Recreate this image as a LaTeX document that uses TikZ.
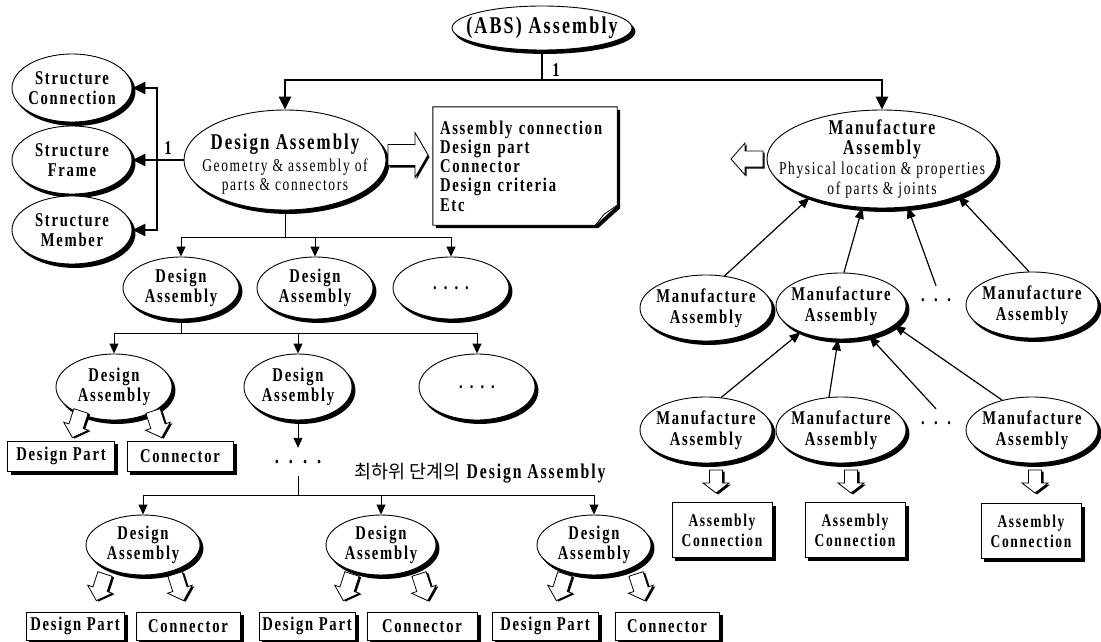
\documentclass[tikz,border=0pt]{standalone}
\usepackage{fontspec}
\setmainfont{Liberation Serif}[FakeStretch=0.75,LetterSpace=9]
\newfontfamily\krfont{Noto Sans CJK KR}
\usetikzlibrary{shapes.geometric,arrows.meta,calc}
\pgfdeclarelayer{background}
\pgfsetlayers{background,main}
\newcommand\dotrow[1]{.\hspace{#1}.\hspace{#1}.\hspace{#1}.}
\newcommand\dotrowthree[1]{.\hspace{#1}.\hspace{#1}.}

\tikzset{
  txt/.style={font=\bfseries\fontsize{19.5}{20.5}\selectfont, align=center, inner sep=0pt},
  oval/.style={ellipse, draw, line width=0.9pt, fill=white, inner sep=0pt},
  say/.style={label={[txt]center:{#1}}},
  rectbox/.style={txt, rectangle, draw, line width=0.9pt, fill=white},
  smalloval/.style={oval, minimum width=116pt, minimum height=62pt},
  mfoval/.style={oval, minimum width=132pt, minimum height=66pt},
  partbox/.style={rectbox, font=\bfseries\fontsize{19.5}{20}\selectfont, minimum height=30pt},
  acbox/.style={rectbox, font=\bfseries\fontsize{18}{20}\selectfont, minimum width=100pt, minimum height=55pt},
  dotnode/.style={txt, minimum height=28pt},
  trunk/.style={line width=2.4pt, -{Triangle[length=13pt,width=12pt]}},
  trunkline/.style={line width=2.4pt},
  twig/.style={line width=0.9pt, -{Triangle[length=10pt,width=9pt]}},
  twigline/.style={line width=0.9pt},
  feed/.style={line width=1.2pt, -{Triangle[length=11pt,width=9pt]}},
  pics/hollow/.style args={#1/#2/#3/#4/#5/#6}{code={
    % length / head length / shaft width / head width / shadow offset
    \fill[black] (#5,#6-#3/2) -- (#5+#1-#2,#6-#3/2) -- (#5+#1-#2,#6-#4/2) -- (#5+#1,#6)
      -- (#5+#1-#2,#6+#4/2) -- (#5+#1-#2,#6+#3/2) -- (#5,#6+#3/2) -- cycle;
    \filldraw[fill=white, line width=0.8pt] (0,-#3/2) -- (#1-#2,-#3/2) -- (#1-#2,-#4/2) -- (#1,0)
      -- (#1-#2,#4/2) -- (#1-#2,#3/2) -- (0,#3/2) -- cycle;
  }},
  pics/dropleft/.style={code={\pic[rotate=-108] {hollow=28/12/15/26/0.3/-2.2};}},
  pics/dropright/.style={code={\pic[rotate=-72] {hollow=28/12/15/26/1.6/-1.6};}},
}

\begin{document}
\begin{tikzpicture}[x=1pt,y=-1pt]
\useasboundingbox (0,0) rectangle (1101,642);

% ---------- root ----------
\node[oval, minimum width=180pt, minimum height=44pt,
      label={[txt, font=\bfseries\fontsize{24}{26}\selectfont]center:(ABS) Assembly}] (top) at (542,28) {};
\coordinate (split0) at (542,80);
\node[txt] (onea) at (556,70) {1};

% ---------- design side ----------
\node[oval, minimum width=202pt, minimum height=100pt,
      label={[txt, font=\bfseries\fontsize{18}{19}\selectfont, yshift=-4pt]center:{{\fontsize{22.5}{24}\selectfont Design Assembly}\\[3pt]
       {\mdseries Geometry \& assembly of}\\{\mdseries parts \& connectors}}}] (da) at (285,160) {};

\node[oval, minimum width=120pt, minimum height=68pt, say={Structure\\Connection}] (sc) at (72,88) {};
\node[oval, minimum width=120pt, minimum height=68pt, say={Structure\\Frame}] (sf) at (72,160) {};
\node[oval, minimum width=120pt, minimum height=68pt, say={Structure\\Member}] (sm) at (72,230) {};

\coordinate (bk) at (157,160);
\coordinate (bkt) at (157,88);
\coordinate (bkb) at (157,230);
\node[txt] (oneb) at (168,148) {1};

% note with the design contents
\node[txt, align=left, text width=170pt, minimum width=184pt, minimum height=118pt,
      font=\bfseries\fontsize{19.5}{19.2}\selectfont, inner xsep=7pt] (note) at (525,166)
  {Assembly connection\\Design part\\Connector\\Design criteria\\Etc};

\pic at (388,155) {hollow=40/13/21/45/1.5/2};

% ---------- design tree ----------
\node[smalloval, say={Design\\Assembly}] (d11) at (181,288) {};
\node[smalloval, say={Design\\Assembly}] (d12) at (315,288) {};
\node[smalloval, say={\dotrow{7pt}}] (d13) at (451,288) {};
\coordinate (s1) at (285,237);

\node[smalloval, minimum height=66pt, say={Design\\Assembly}] (d21) at (114,387) {};
\node[smalloval, minimum width=108pt, minimum height=66pt, say={Design\\Assembly}] (d22) at (298,387) {};
\node[smalloval, minimum height=66pt, say={\dotrow{7pt}}] (d23) at (477,387) {};
\coordinate (s2) at (181,333);

\node[partbox, minimum width=107pt] (dp1) at (61,456) {Design Part};
\node[partbox, minimum width=106pt] (cn1) at (180,456) {Connector};
\pic at (81,411) {dropleft};
\pic at (153,411) {dropright};

\node[dotnode, font=\bfseries\fontsize{22}{22}\selectfont] (dd) at (298,462) {\dotrow{10pt}};
\coordinate (s3) at (298,495);
\node[txt, font=\bfseries\fontsize{21}{22}\selectfont] (kl) at (480,473)
  {{\krfont\mdseries\fontsize{18.5}{20}\selectfont 최하위 단계의} Design Assembly};

\node[smalloval, minimum width=114pt, minimum height=60pt, say={Design\\Assembly}] (b1) at (143,545) {};
\node[smalloval, minimum width=110pt, minimum height=60pt, say={Design\\Assembly}] (b2) at (381,545) {};
\node[smalloval, minimum width=114pt, minimum height=60pt, say={Design\\Assembly}] (b3) at (594,545) {};

\node[partbox, minimum width=98pt, minimum height=28pt] (dpa) at (75,626) {Design Part};
\node[partbox, minimum width=104pt, minimum height=28pt] (cna) at (188,626) {Connector};
\node[partbox, minimum width=96pt, minimum height=28pt] (dpb) at (307,626) {Design Part};
\node[partbox, minimum width=110pt, minimum height=28pt] (cnb) at (422,626) {Connector};
\node[partbox, minimum width=106pt, minimum height=28pt] (dpc) at (545,626) {Design Part};
\node[partbox, minimum width=104pt, minimum height=28pt] (cnc) at (667,626) {Connector};
\foreach \tx in {105,352,565}
  \pic at (\tx,574) {dropleft};
\foreach \tx in {175,419,636}
  \pic at (\tx,574) {dropright};

% ---------- manufacture side ----------
\node[oval, minimum width=230pt, minimum height=98pt,
      label={[txt, font=\bfseries\fontsize{18}{20}\selectfont]center:{{\fontsize{21}{22}\selectfont Manufacture}\\{\fontsize{21}{22}\selectfont Assembly}\\
       {\mdseries Physical location \& properties}\\{\mdseries of parts \& joints}}}] (ma) at (882,159) {};
\pic[rotate=180] at (763,159) {hollow=32/14/16/32/-1.5/-1.5};

\node[mfoval, say={Manufacture\\Assembly}] (m21) at (706,308) {};
\node[mfoval, minimum width=130pt, say={Manufacture\\Assembly}] (m22) at (841,306) {};
\node[dotnode] (md2) at (936,300) {\dotrowthree{9.5pt}};
\node[mfoval, say={Manufacture\\Assembly}] (m23) at (1032,305) {};

\node[mfoval, say={Manufacture\\Assembly}] (m31) at (706,430) {};
\node[mfoval, minimum width=130pt, say={Manufacture\\Assembly}] (m32) at (841,430) {};
\node[dotnode] (md3) at (936,423) {\dotrowthree{9.5pt}};
\node[mfoval, say={Manufacture\\Assembly}] (m33) at (1032,430) {};

\foreach \tx in {716,851,1035}
  \pic[rotate=-90] at (\tx,470) {hollow=23/10/13/26/1.5/-2};
\node[acbox] (ac1) at (722,530) {Assembly\\Connection};
\node[acbox] (ac2) at (855,530) {Assembly\\Connection};
\node[acbox] (ac3) at (1031,531) {Assembly\\Connection};

% ---------- connectors ----------
\draw[trunkline] (top.south) -- (split0);
\draw[trunk] (split0) -| (da.north);
\draw[trunk] (split0) -| (ma.north);

\draw[trunkline] (da.west) -- (bk);
\draw[trunkline, line cap=rect] (bkt) -- (bkb);
\draw[trunk] (bkt) -- (sc.east);
\draw[trunk] (bk) -- (sf.east);
\draw[trunk] (bkb) -- (sm.east);

\draw[twigline] (da.south) -- (s1);
\draw[twig] (s1) -| (d11.north);
\draw[twig] (s1) -| (d12.north);
\draw[twig] (s1) -| (d13.north);

\draw[twigline] (d11.south) -- (s2);
\draw[twig] (s2) -| (d21.north);
\draw[twig] (s2) -| (d22.north);
\draw[twig] (s2) -| (d23.north);

\draw[twig] (d22.south) -- (dd.north);
\draw[twigline] (dd.south) -- (s3);
\draw[twig] (s3) -| (b1.north);
\draw[twig] (s3) -| (b2.north);
\draw[twig] (s3) -| (b3.north);

\draw[feed] (m21.60) -- (ma.-152);
\draw[feed] (m22.85) -- (ma.-112);
\draw[feed] (md2.north) -- (ma.-62);
\draw[feed] (m23.95) -- (ma.-26);

\draw[feed] (m31.65) -- (m22.-147);
\draw[feed] (m32.110) -- (m22.-95);
\draw[feed] (md3.north) -- (m22.-47);
\draw[feed] (m33.135) -- (m22.-20);

% ---------- page, shadows and the note outline, behind everything ----------
\begin{pgfonlayer}{background}
  \fill[white] (0,0) rectangle (1101,642);
  \foreach \nd in {top,da,sc,sf,sm,d11,d12,d13,d21,d22,d23,b1,b2,b3,ma,m21,m22,m23,m31,m32,m33}
    \fill[black] let \p1=(\nd.center), \p2=(\nd.east), \p3=(\nd.north) in
      ([shift={(3,3.5)}]\nd.center) ellipse [x radius={\x2-\x1}, y radius={\y3-\y1}];
  \foreach \nd in {dp1,cn1,dpa,cna,dpb,cnb,dpc,cnc,ac1,ac2,ac3}
    \fill[black] ([shift={(3.5,3.5)}]\nd.north west) rectangle ([shift={(3.5,3.5)}]\nd.south east);
  \fill[black] ([shift={(3,3)}]note.north west) -- ([shift={(3,3)}]note.north east)
    -- ([shift={(3,-17)}]note.south east) -- ([shift={(-19,3)}]note.south east)
    -- ([shift={(3,3)}]note.south west) -- cycle;
  \filldraw[fill=white, line width=0.9pt] (note.north west) -- (note.north east)
    -- ([shift={(0,-20)}]note.south east) -- ([shift={(-22,0)}]note.south east)
    -- (note.south west) -- cycle;
  \filldraw[fill=white, line width=0.8pt] ([shift={(0,-20)}]note.south east)
    -- ([shift={(-13,-11)}]note.south east) -- ([shift={(-22,0)}]note.south east);
\end{pgfonlayer}
\end{tikzpicture}
\end{document}
